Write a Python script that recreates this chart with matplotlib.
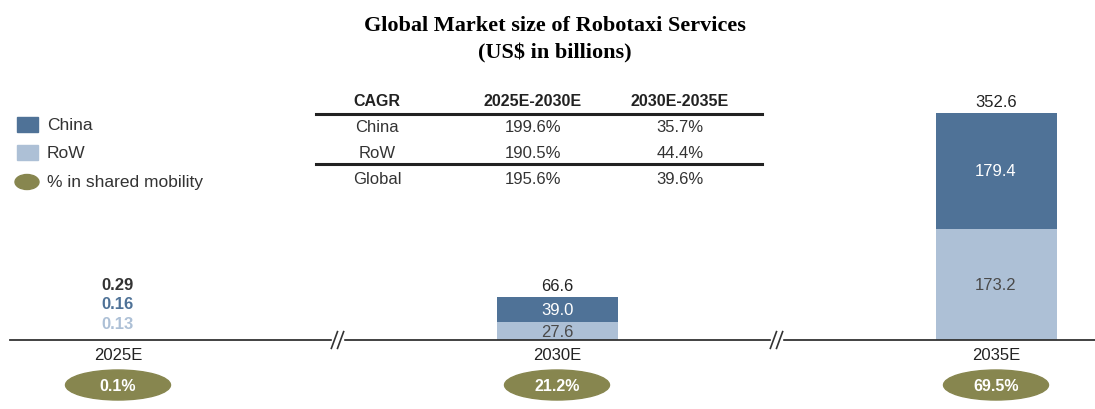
import matplotlib.pyplot as plt
from matplotlib.patches import Ellipse, Rectangle

years = ['2025E', '2030E', '2035E']
china = [0.16, 39.0, 179.4]
row = [0.13, 27.6, 173.2]
total = [0.29, 66.6, 352.6]
shared = ['0.1%', '21.2%', '69.5%']

cagr_cols = ['CAGR', '2025E-2030E', '2030E-2035E']
cagr_rows = [['China', '199.6%', '35.7%'],
             ['RoW', '190.5%', '44.4%'],
             ['Global', '195.6%', '39.6%']]

c_china = '#4f7297'
c_row = '#adc0d6'
c_olive = '#87864f'

W, H = 1095, 410
fig = plt.figure(figsize=(W / 100, H / 100), dpi=100)
ax = fig.add_axes([0, 0, 1, 1])
ax.set_xlim(-118 / 439, (W - 118) / 439)
ax.set_ylim(-69 / 0.643, 341 / 0.643)
ax.axis('off')

def fx(px):
    return px / W

def fy(py):
    return 1 - py / H

plt.rcParams['font.family'] = ['Liberation Sans', 'DejaVu Sans']

# title
fig.text(fx(555), fy(26), 'Global Market size of Robotaxi Services', ha='center', va='center',
         family='Liberation Serif', fontweight='bold', fontsize=16)
fig.text(fx(555), fy(53), '(US$ in billions)', ha='center', va='center',
         family='Liberation Serif', fontweight='bold', fontsize=16)

# bars (2025 is too small to see, shown as numbers only)
x = list(range(len(years)))
bw = 121 / 439
for i in x[1:]:
    ax.bar(i, row[i], width=bw, color=c_row)
    ax.bar(i, china[i], width=bw, bottom=row[i], color=c_china)
    ax.text(i, row[i] / 2, f'{row[i]:.1f}', ha='center', va='center', fontsize=12, color='#4a4a4a')
    ax.text(i, row[i] + china[i] / 2, f'{china[i]:.1f}', ha='center', va='center', fontsize=12, color='white')
    ax.text(i, total[i] + 6, f'{total[i]:.1f}', ha='center', va='bottom', fontsize=12, color='#222222')

ax.text(0, 86, f'{total[0]:.2f}', ha='center', va='center', fontsize=12, fontweight='bold', color='#333333')
ax.text(0, 56, f'{china[0]:.2f}', ha='center', va='center', fontsize=12, fontweight='bold', color=c_china)
ax.text(0, 25, f'{row[0]:.2f}', ha='center', va='center', fontsize=12, fontweight='bold', color=c_row)

# baseline with break marks
ax.plot([-0.245, 2.23], [0, 0], color='#333333', lw=1.3)
for b in [0.5, 1.5]:
    ax.add_patch(Rectangle((b - 0.012, -8), 0.024, 16, color='white', zorder=3))
    for dx in [-0.007, 0.007]:
        ax.plot([b + dx - 0.007, b + dx + 0.007], [-13, 13], color='#333333', lw=1.2, zorder=4)

# year labels and shared mobility ellipses
for i in x:
    ax.text(i, -22, years[i], ha='center', va='center', fontsize=12, color='#222222')
    ax.add_patch(Ellipse((i, -70), 105 / 439, 30 / 0.643, color=c_olive))
    ax.text(i, -70, shared[i], ha='center', va='center', fontsize=11.5, fontweight='bold', color='white')

# legend
fig.patches.append(Rectangle((fx(17), fy(133)), fx(21), 15 / H, color=c_china, transform=fig.transFigure))
fig.patches.append(Rectangle((fx(17), fy(161)), fx(21), 15 / H, color=c_row, transform=fig.transFigure))
fig.patches.append(Ellipse((fx(27), fy(183)), fx(24), 15 / H, color=c_olive, transform=fig.transFigure))
for label, py in [('China', 126), ('RoW', 153), ('% in shared mobility', 183)]:
    fig.text(fx(47), fy(py), label, ha='left', va='center', fontsize=12.5, color='#333333')

# CAGR table
col_x = [377, 533, 680]
for cx, h in zip(col_x, cagr_cols):
    fig.text(fx(cx), fy(101), h, ha='center', va='center', fontsize=11.5, fontweight='bold', color='#222222')
for r, py in zip(cagr_rows, [128, 154, 180]):
    for cx, v in zip(col_x, r):
        fig.text(fx(cx), fy(py), v, ha='center', va='center', fontsize=12, color='#333333')
for py in [115, 165]:
    fig.add_artist(plt.Line2D([fx(316), fx(762)], [fy(py), fy(py)], color='#222222', lw=2.2,
                              transform=fig.transFigure))

fig.savefig('out.png', dpi=100)
